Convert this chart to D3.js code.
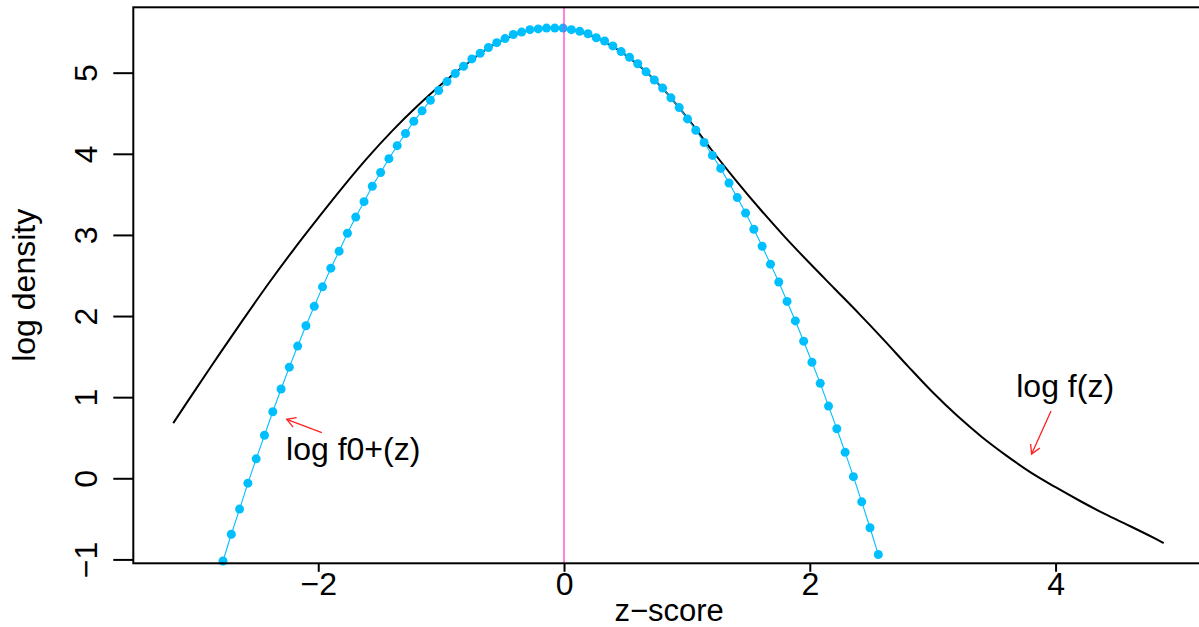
<!DOCTYPE html>
<html><head><meta charset="utf-8">
<script src="https://cdn.jsdelivr.net/npm/d3@7"></script>
<style>
body{margin:0;background:#fff;}
svg{display:block;font-family:"Liberation Sans",Arial,Helvetica,sans-serif;}
</style>
</head><body>
<svg id="chart" width="1199" height="627"></svg>
<script>
// null (f0+) fit: z values and log density at each dot
const nullZ = [-2.775,-2.7075,-2.64,-2.5725,-2.505,-2.4375,-2.37,-2.3025,-2.235,-2.1675,
  -2.1,-2.0325,-1.965,-1.8975,-1.83,-1.7625,-1.695,-1.6275,-1.56,-1.4925,
  -1.425,-1.3575,-1.29,-1.2225,-1.155,-1.0875,-1.02,-0.9525,-0.885,-0.8175,
  -0.75,-0.6825,-0.615,-0.5475,-0.48,-0.4125,-0.345,-0.2775,-0.21,-0.1425,
  -0.075,-0.0075,0.06,0.1275,0.195,0.2625,0.33,0.3975,0.465,0.5325,
  0.6,0.6675,0.735,0.8025,0.87,0.9375,1.005,1.0725,1.14,1.2075,
  1.275,1.3425,1.41,1.4775,1.545,1.6125,1.68,1.7475,1.815,1.8825,
  1.95,2.0175,2.085,2.1525,2.22,2.2875,2.355,2.4225,2.49,2.5575];
const nullLogDensity = [-1.02,-0.69,-0.38,-0.06,0.24,0.53,0.82,1.10,1.37,1.63,
  1.88,2.12,2.36,2.59,2.80,3.02,3.22,3.41,3.60,3.77,
  3.94,4.10,4.25,4.40,4.53,4.66,4.78,4.89,4.99,5.08,
  5.17,5.24,5.31,5.37,5.42,5.47,5.50,5.53,5.54,5.55,
  5.55,5.55,5.53,5.51,5.48,5.43,5.39,5.33,5.26,5.19,
  5.11,5.01,4.91,4.81,4.69,4.57,4.43,4.29,4.14,3.98,
  3.82,3.64,3.46,3.27,3.07,2.86,2.64,2.42,2.18,1.94,
  1.69,1.43,1.17,0.89,0.61,0.32,0.02,-0.29,-0.61,-0.94];

// mixture fit log f(z)
const fitZ = [-3.18,-3.0,-2.8,-2.6,-2.4,-2.2,-2.0,-1.8,-1.6,-1.4,-1.2,-1.0,-0.8,-0.6,-0.4,-0.2,
  0.0,0.2,0.4,0.6,0.8,1.0,1.2,1.4,1.6,1.8,2.0,2.2,2.4,2.6,2.8,3.0,3.2,3.4,3.6,3.8,4.0,4.2,4.4,4.6,4.8,4.88];
const fitLogDensity = [0.68,1.09,1.54,1.98,2.41,2.82,3.21,3.59,3.95,4.28,4.58,4.855,5.10,5.32,5.47,5.545,
  5.545,5.47,5.32,5.10,4.81,4.45,4.05,3.67,3.31,2.97,2.65,2.34,2.03,1.71,1.38,1.06,0.77,0.51,0.28,0.07,-0.11,-0.28,-0.44,-0.585,-0.735,-0.80];

const xTicks = [-2, 0, 2, 4];
const yTicks = [-1, 0, 1, 2, 3, 4, 5];
const xLabel = "z\u2212score";
const yLabel = "log density";
const nullLabel = "log f0+(z)";
const fitLabel = "log f(z)";
// annotation anchors (data units)
const nullArrowFrom = [-1.971, 0.562], nullArrowTo = [-2.256, 0.727];
const fitArrowFrom = [3.963, 0.830], fitArrowTo = [3.805, 0.300];
const nullLabelAt = [-2.262, 0.23];
const fitLabelAt = [3.68, 1.005];

const svg = d3.select("#chart");
const L = 133.3, R = 1205, T = 7.3, B = 563.3;
const x = d3.scaleLinear().domain([-3.505, 5.216]).range([L, R]);
const y = d3.scaleLinear().domain([-1.048, 5.806]).range([B, T]);

// black fitted curve
svg.append("path")
  .datum(fitZ.map((z, i) => [z, fitLogDensity[i]]))
  .attr("fill", "none").attr("stroke", "#000").attr("stroke-width", 2)
  .attr("d", d3.line().x(d => x(d[0])).y(d => y(d[1])).curve(d3.curveCatmullRom));

// blue null curve (line + dots)
const nullPts = nullZ.map((z, i) => [z, nullLogDensity[i]]);
svg.append("path").datum(nullPts)
  .attr("fill", "none").attr("stroke", "#00bfff").attr("stroke-width", 1.1)
  .attr("d", d3.line().x(d => x(d[0])).y(d => y(d[1])));
svg.append("g").selectAll("circle").data(nullPts).join("circle")
  .attr("cx", d => x(d[0])).attr("cy", d => y(d[1])).attr("r", 4.5)
  .attr("fill", "#00bfff");

// vertical line at 0
svg.append("line")
  .attr("x1", x(0)).attr("x2", x(0)).attr("y1", T).attr("y2", B)
  .attr("stroke", "#ff30c8").attr("stroke-width", 1.2);

// arrows
function arrow(from, to) {
  const x1 = x(from[0]), y1 = y(from[1]), x2 = x(to[0]), y2 = y(to[1]);
  const ang = Math.atan2(y1 - y2, x1 - x2), len = 10, a = Math.PI / 6;
  const p1 = [x2 + len * Math.cos(ang + a), y2 + len * Math.sin(ang + a)];
  const p2 = [x2 + len * Math.cos(ang - a), y2 + len * Math.sin(ang - a)];
  svg.append("line").attr("x1", x1).attr("y1", y1).attr("x2", x2).attr("y2", y2)
    .attr("stroke", "#ff2020").attr("stroke-width", 1.3);
  svg.append("path").attr("d", `M${p1[0]},${p1[1]}L${x2},${y2}L${p2[0]},${p2[1]}`)
    .attr("fill", "none").attr("stroke", "#ff2020").attr("stroke-width", 1.3);
}
arrow(nullArrowFrom, nullArrowTo);
arrow(fitArrowFrom, fitArrowTo);

svg.append("text").attr("x", x(nullLabelAt[0])).attr("y", y(nullLabelAt[1]))
  .attr("font-size", 32).attr("fill", "#000").text(nullLabel);
svg.append("text").attr("x", x(fitLabelAt[0])).attr("y", y(fitLabelAt[1]))
  .attr("font-size", 32).attr("fill", "#000").text(fitLabel);

// axes
const xAxis = svg.append("g").attr("transform", `translate(0,${B})`)
  .call(d3.axisBottom(x).tickValues(xTicks).tickSize(8.5).tickFormat(d3.format("d")));
xAxis.select(".domain").remove();
xAxis.selectAll("line").attr("stroke", "#000").attr("stroke-width", 2);
xAxis.selectAll("text").attr("font-size", 32).attr("font-family", null)
  .attr("fill", "#000").attr("y", 31.7).attr("dy", 0);

const yAxis = svg.append("g").attr("transform", `translate(${L},0)`)
  .call(d3.axisLeft(y).tickValues(yTicks).tickSize(20).tickFormat(d3.format("d")));
yAxis.select(".domain").remove();
yAxis.selectAll("line").attr("stroke", "#000").attr("stroke-width", 2);
yAxis.selectAll("text").attr("font-size", 32).attr("font-family", null)
  .attr("fill", "#000").attr("transform", "rotate(-90)")
  .attr("x", 0).attr("y", -36.6).attr("dy", 0).attr("text-anchor", "middle");

// frame
svg.append("rect").attr("x", L).attr("y", T).attr("width", R - L).attr("height", B - T)
  .attr("fill", "none").attr("stroke", "#000").attr("stroke-width", 2);

// axis titles
svg.append("text").attr("x", (L + R) / 2).attr("y", 620.5).attr("text-anchor", "middle")
  .attr("font-size", 31).attr("fill", "#000").text(xLabel);
svg.append("text").attr("transform", `translate(35,${(T + B) / 2}) rotate(-90)`)
  .attr("text-anchor", "middle").attr("font-size", 32).attr("fill", "#000").text(yLabel);
</script>
</body></html>
